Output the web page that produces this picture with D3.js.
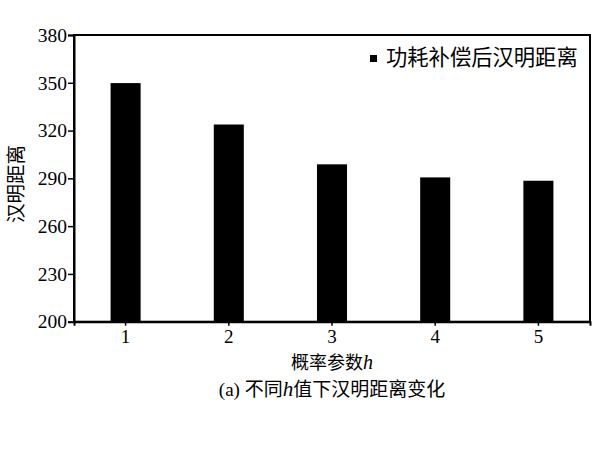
<!DOCTYPE html>
<html><head><meta charset="utf-8">
<script src="https://cdn.jsdelivr.net/npm/d3@7"></script>
<style>body{margin:0;background:#fff}</style>
</head><body>
<svg id="c" width="600" height="450"></svg>
<script>
const categories = ["1","2","3","4","5"];
const values = [349.8, 323.8, 298.8, 290.6, 288.5];
const yTicks = [200,230,260,290,320,350,380];
const seriesName = "功耗补偿后汉明距离";
const xTitle = "概率参数";
const yTitle = "汉明距离";
const captionParts = ["(a) ", "不同", "h", "值下汉明距离变化"];

const svg = d3.select("#c");
const L=74, R=590, T=35, B=321.7;
const serif = "'Liberation Serif','DejaVu Serif',serif";
const cjk = "'Noto Sans CJK SC','Noto Sans CJK JP',sans-serif";

const x = d3.scaleBand().domain(categories).range([L,R]).paddingInner(0.709).paddingOuter(0.3545);
const y = d3.scaleLinear().domain([200,380]).range([B,T]);

svg.append("g").selectAll("rect").data(values).join("rect")
  .attr("x",(d,i)=>x(categories[i])).attr("width",x.bandwidth())
  .attr("y",d=>y(d)).attr("height",d=>B-y(d)).attr("fill","#000");

// frame
svg.append("rect").attr("x",L).attr("y",T).attr("width",R-L).attr("height",B-T)
  .attr("fill","none").attr("stroke","#000").attr("stroke-width",2);

const ya = svg.append("g").attr("transform",`translate(${L},0)`)
  .call(d3.axisLeft(y).tickValues(yTicks).tickSize(6).tickPadding(1));
ya.attr("font-family",serif).attr("font-size",19.5);
ya.select(".domain").attr("stroke-width",2);
ya.selectAll(".tick line").attr("stroke-width",1.5);
ya.selectAll("text").style("font-family",serif).attr("font-size",19.5).attr("fill","#000");

const xa = svg.append("g").attr("transform",`translate(0,${B})`)
  .call(d3.axisBottom(x).tickSize(4).tickPadding(4));
xa.attr("font-family",serif).attr("font-size",19);
xa.select(".domain").attr("stroke-width",2);
xa.selectAll(".tick line").attr("stroke-width",1.5);
xa.selectAll("text").style("font-family",serif).attr("font-size",19).attr("fill","#000");

// y title
svg.append("text").attr("transform","translate(22.5,184) rotate(-90)")
  .attr("text-anchor","middle").attr("font-family",cjk).attr("font-size",19.5).text(yTitle);

// x title
const xt = svg.append("text").attr("x",(L+R)/2).attr("y",368.5).attr("text-anchor","middle")
  .attr("font-family",cjk).attr("font-size",18);
xt.append("tspan").text(xTitle);
xt.append("tspan").style("font-family",serif).attr("font-style","italic").attr("font-size",20).text("h");

// caption
const ct = svg.append("text").attr("x",(L+R)/2).attr("y",395.5).attr("text-anchor","middle")
  .attr("font-family",cjk).attr("font-size",19);
ct.selectAll("tspan").data(captionParts).join("tspan")
  .style("font-family",(d,i)=> (i===0||i===2) ? serif : cjk)
  .attr("font-style",(d,i)=> i===2 ? "italic" : null)
  .attr("font-size",(d,i)=> i===2 ? 21 : 19)
  .text(d=>d);

// legend
svg.append("rect").attr("x",370).attr("y",55).attr("width",7).attr("height",7).attr("fill","#000");
svg.append("text").attr("x",386).attr("y",65).attr("font-family",cjk).attr("font-size",21.3).text(seriesName);
</script>
</body></html>
